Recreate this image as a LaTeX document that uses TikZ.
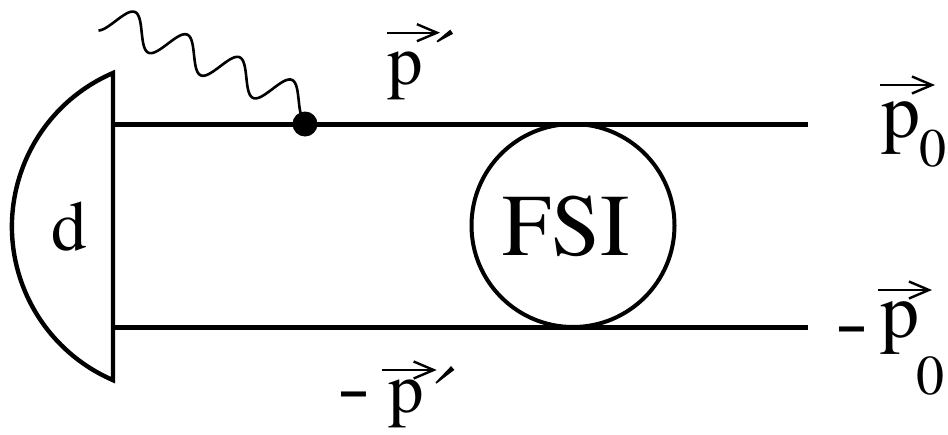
\documentclass[tikz,border=0pt]{standalone}
\usepackage{fontspec}
\usepackage{graphicx}
\IfFontExistsTF{TeX Gyre Termes}{\setmainfont{TeX Gyre Termes}}{\setmainfont{Liberation Serif}}
\usetikzlibrary{arrows.meta}
\tikzset{
  thick line/.style={line width=5pt},
  wave/.style={line width=2.6pt, line join=round},
  vecarr/.style={line width=2pt, -{Straight Barb[length=20pt,width=17pt,line width=2.4pt]}},
  lbl/.style={inner sep=0pt, anchor=base},
}
\newcommand{\fs}[1]{\fontsize{#1}{#1}\selectfont}
\begin{document}
\begin{tikzpicture}[x=1pt,y=-1pt]
\useasboundingbox (0,0) rectangle (948,434);
% deuteron
\draw[line width=4.4pt, line join=miter] (113,73) arc[start angle=-113.3, end angle=-246.7, radius=167.2] -- cycle;
\node[lbl, font=\fs{71}] (d) at (69,250) {d};
% lines
\coordinate (t0) at (113,124);
\coordinate (t1) at (808,124);
\coordinate (b0) at (113,327);
\coordinate (b1) at (808,327);
\draw[thick line] (t0) -- (t1);
\draw[thick line] (b0) -- (b1);
% FSI blob
\draw[line width=4pt] (573,225.5) circle[radius=101.5];
\node[lbl, font=\fs{88}] (fsi) at (566.5,255) {FSI};
% photon
\draw[wave] plot[domain=-1:222, samples=220, variable=\s]
  ({102 + 0.918*\s - 0.397*(-9-16*sin(90+6.316*(\s-25.1)))},
   {25 + 0.397*\s + 0.918*(-9-16*sin(90+6.316*(\s-25.1)))});
\fill (305,124) circle[radius=12.5];
% top p'
\node[lbl, font=\fs{71}] (pt) at (405,84.7) {p};
\draw[vecarr] (387,32.7) -- (440,32.7);
\fill (436.55,41.04) -- (450.3,29.6) -- (453.1,33.8) -- (437.45,42.36) -- cycle;
% bottom -p'
\node[lbl, font=\fs{80}] (mb) at (354,412) {\scalebox{1.27}[1]{-}};
\node[lbl, font=\fs{71}] (pb) at (406,412.7) {p};
\draw[vecarr] (381.7,370) -- (436.7,370);
\fill (435.47,382.4) -- (451.03,366.14) -- (454.37,369.86) -- (436.53,383.6) -- cycle;
% p0 top right
\node[lbl, font=\fs{78}] (p0) at (901,137.9) {p};
\node[lbl, font=\fs{54}] (z0) at (932.5,166) {0};
\draw[vecarr] (880,85) -- (935,85);
% -p0 bottom right
\node[lbl, font=\fs{80}] (mr) at (852.5,347) {\scalebox{1.27}[1]{-}};
\node[lbl, font=\fs{78}] (p1) at (900,337.6) {p};
\node[lbl, font=\fs{56}] (z1) at (930.5,394) {0};
\draw[vecarr] (878,290) -- (932,290);
\end{tikzpicture}
\end{document}
